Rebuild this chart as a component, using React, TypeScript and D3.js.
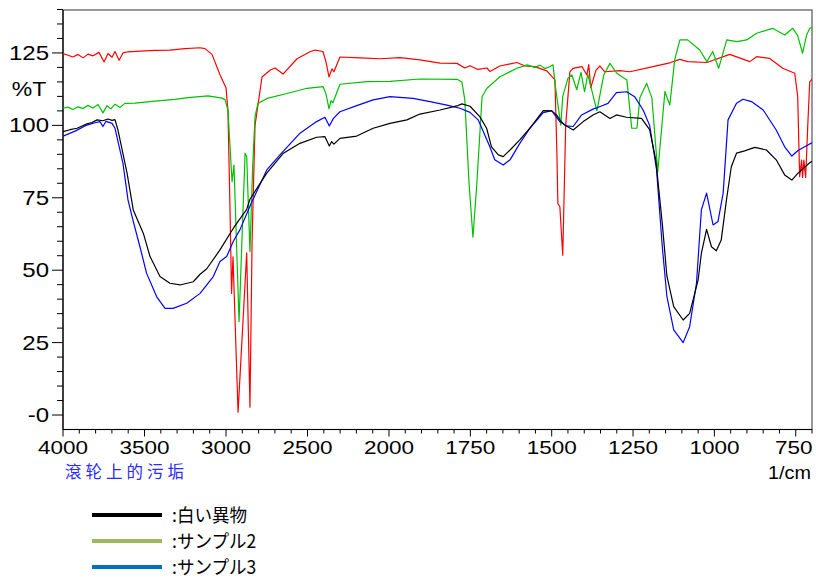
import React from "react";
import * as d3 from "d3";

// ---- Data (wavenumber 1/cm, %T) ----
const blackData: [number, number][] = [
  [4000, 97.8], [3957, 98.5], [3914, 99.0], [3883, 99.8], [3853, 100.5], [3822, 101.0],
  [3791, 101.9], [3755, 101.6], [3724, 102.2], [3699, 101.7], [3681, 102.0], [3663, 98.4],
  [3607, 83.5], [3569, 70.8], [3507, 62.7], [3466, 54.7], [3405, 47.8], [3344, 45.5],
  [3282, 44.9], [3201, 46.0], [3159, 48.6], [3118, 50.5], [3037, 57.0], [2955, 64.5],
  [2873, 71.0], [2853, 74.5], [2750, 83.5], [2648, 90.4], [2546, 93.8], [2444, 95.9],
  [2393, 96.1], [2366, 92.9], [2352, 94.4], [2338, 93.5], [2301, 95.5], [2198, 96.3],
  [2097, 99.0], [1997, 100.7], [1945, 101.9], [1905, 103.9], [1843, 105.3], [1791, 106.7],
  [1776, 107.4], [1751, 106.6], [1721, 103.0], [1700, 99.0], [1685, 92.6], [1664, 89.8],
  [1649, 89.2], [1628, 91.5], [1598, 95.0], [1567, 99.0], [1536, 103.6], [1526, 105.1],
  [1500, 105.0], [1485, 103.6], [1475, 101.9], [1460, 100.1], [1434, 98.4], [1403, 101.3],
  [1373, 103.6], [1352, 104.7], [1321, 102.4], [1301, 103.6], [1270, 102.8], [1224, 102.4],
  [1199, 98.5], [1180, 88.0], [1160, 66.0], [1146, 48.0], [1125, 37.4], [1096, 32.8],
  [1076, 35.1], [1050, 46.6], [1040, 55.8], [1024, 64.1], [1009, 58.1], [994, 56.7],
  [979, 60.4], [963, 74.2], [948, 85.7], [932, 90.4], [907, 91.2], [876, 92.4],
  [840, 91.5], [810, 88.1], [784, 82.9], [762, 81.1], [743, 83.5], [707, 87.1], [700, 87.6],
];

const greenData: [number, number][] = [
  [4000, 105.9], [3969, 106.3], [3939, 105.5], [3908, 106.4], [3877, 105.8], [3847, 106.9],
  [3816, 106.0], [3785, 107.2], [3755, 104.3], [3730, 106.8], [3706, 105.7], [3681, 107.3],
  [3650, 106.2], [3620, 107.6], [3558, 107.7], [3436, 108.4], [3313, 109.0], [3233, 109.6],
  [3110, 110.2], [3025, 109.4], [3006, 108.9], [2988, 105.3], [2963, 80.6], [2951, 86.3],
  [2920, 32.2], [2883, 90.4], [2873, 89.2], [2853, 56.4], [2837, 85.0], [2822, 103.0],
  [2804, 107.6], [2748, 109.3], [2626, 111.0], [2503, 112.8], [2405, 113.4], [2387, 111.0],
  [2368, 105.7], [2356, 108.5], [2344, 107.8], [2301, 114.2], [2135, 115.1], [1997, 115.2],
  [1905, 116.0], [1791, 115.9], [1776, 115.0], [1767, 108.8], [1754, 80.0], [1742, 61.4],
  [1730, 80.0], [1714, 109.9], [1699, 112.8], [1659, 116.8], [1607, 119.7], [1576, 120.9],
  [1552, 120.0], [1536, 120.8], [1521, 119.6], [1505, 120.3], [1496, 120.9], [1487, 112.0],
  [1472, 100.1], [1466, 110.0], [1450, 116.3], [1438, 117.4], [1423, 112.3], [1410, 118.3],
  [1399, 111.6], [1389, 117.6], [1361, 105.0], [1340, 117.4], [1321, 121.4], [1300, 118.0],
  [1269, 115.7], [1254, 99.0], [1238, 99.0], [1229, 109.5], [1208, 114.5], [1192, 109.4],
  [1174, 84.0], [1152, 111.7], [1137, 107.0], [1122, 122.6], [1106, 129.5], [1082, 129.5],
  [1045, 126.0], [1023, 122.0], [1005, 125.5], [987, 119.7], [962, 129.5], [931, 128.9],
  [901, 129.5], [870, 131.8], [821, 133.5], [784, 131.2], [759, 133.5], [744, 131.0],
  [729, 124.9], [717, 131.0], [707, 133.5], [700, 133.8],
];

const blueData: [number, number][] = [
  [4000, 96.3], [3926, 98.0], [3853, 100.1], [3804, 100.9], [3773, 101.3], [3755, 99.6],
  [3736, 101.4], [3699, 100.7], [3681, 99.0], [3632, 86.9], [3601, 74.2], [3571, 67.3],
  [3528, 58.1], [3487, 48.9], [3425, 40.8], [3374, 36.8], [3325, 36.8], [3241, 38.6],
  [3159, 42.0], [3078, 47.8], [3037, 53.0], [2996, 54.7], [2955, 60.0], [2914, 64.0],
  [2846, 73.0], [2750, 84.6], [2669, 89.8], [2546, 97.3], [2444, 101.3], [2393, 102.8],
  [2366, 99.8], [2341, 102.4], [2301, 104.7], [2198, 106.8], [2097, 108.8], [1997, 109.9],
  [1926, 109.3], [1874, 108.2], [1822, 107.0], [1782, 105.9], [1751, 104.5], [1726, 101.9],
  [1690, 92.6], [1675, 88.1], [1649, 86.3], [1628, 88.1], [1598, 93.8], [1567, 99.0],
  [1526, 104.4], [1500, 105.1], [1475, 101.3], [1454, 99.8], [1434, 99.6], [1408, 103.6],
  [1373, 105.6], [1347, 106.7], [1327, 107.6], [1301, 111.3], [1270, 111.6], [1245, 109.9],
  [1219, 105.3], [1199, 100.0], [1178, 85.0], [1160, 58.0], [1146, 41.0], [1125, 29.4],
  [1096, 25.0], [1076, 30.5], [1055, 45.5], [1040, 70.8], [1024, 76.6], [1004, 65.6],
  [989, 66.8], [973, 76.6], [958, 101.9], [932, 107.6], [912, 109.0], [886, 108.2],
  [850, 105.3], [810, 98.4], [784, 92.6], [762, 89.4], [743, 91.3], [707, 93.6], [700, 94.0],
];

const redData: [number, number][] = [
  [4000, 124.8], [3969, 124.2], [3939, 123.6], [3908, 124.5], [3877, 123.3], [3847, 124.6],
  [3816, 124.0], [3779, 125.2], [3748, 121.9], [3724, 124.8], [3699, 123.5], [3681, 125.5],
  [3656, 122.5], [3632, 125.0], [3601, 125.4], [3528, 125.6], [3436, 125.9], [3344, 126.0],
  [3252, 126.5], [3159, 126.8], [3129, 126.5], [3086, 124.5], [3037, 117.5], [3000, 113.0],
  [2988, 105.0], [2975, 70.0], [2966, 42.0], [2957, 54.6], [2926, 1.0], [2873, 56.0],
  [2853, 2.7], [2840, 60.0], [2822, 100.0], [2779, 116.7], [2730, 119.0], [2699, 119.8],
  [2650, 117.7], [2564, 123.0], [2485, 125.4], [2454, 126.0], [2405, 125.5], [2387, 122.0],
  [2368, 116.7], [2350, 119.5], [2338, 118.5], [2301, 123.6], [2178, 123.3], [2055, 123.0],
  [1966, 123.4], [1905, 122.6], [1843, 121.5], [1791, 121.4], [1767, 119.8], [1751, 120.6],
  [1727, 119.3], [1699, 119.8], [1690, 118.6], [1659, 120.5], [1628, 121.2], [1607, 121.7],
  [1582, 120.5], [1552, 120.3], [1515, 118.8], [1490, 115.7], [1484, 90.0], [1481, 73.0],
  [1475, 72.0], [1466, 55.2], [1457, 100.0], [1444, 118.5], [1435, 119.7], [1407, 120.3],
  [1392, 117.4], [1386, 121.0], [1380, 113.0], [1364, 119.0], [1352, 120.5], [1337, 118.5],
  [1291, 118.9], [1260, 118.5], [1199, 120.0], [1137, 121.6], [1106, 122.8], [1082, 122.0],
  [1023, 121.7], [953, 124.5], [891, 122.0], [870, 123.7], [830, 123.1], [790, 119.7],
  [753, 118.0], [744, 110.0], [738, 82.3], [732, 88.0], [729, 82.0], [725, 88.0],
  [719.5, 82.0], [713, 100.0], [707, 115.0], [700, 116.0],
];

const X_TICKS = [4000, 3500, 3000, 2500, 2000, 1750, 1500, 1250, 1000, 750];
const Y_TICKS = [0, 25, 50, 75, 100, 125];
const Y_TICK_LABELS = ["-0", "25", "50", "75", "100", "125"];
const LEGEND_LABELS = [":白い異物", ":サンプル2", ":サンプル3"];
const LEGEND_COLORS = ["#000000", "#9bbb59", "#0070c0"];

const W = 816;
const H = 581;
const L = 63, R = 812, T = 10, B = 429.5;

export default function App() {
  const x = d3.scaleLinear().domain([4000, 2000, 700]).range([L, 389, R]);
  const y = d3.scaleLinear().domain([-5, 140]).range([B, T - 0.5]);
  const line = d3.line<[number, number]>().x((d) => x(d[0])).y((d) => y(d[1]));

  const minorX: number[] = [];
  for (let v = 4000; v >= 2000; v -= 100) minorX.push(v);
  for (let v = 1950; v >= 700; v -= 50) minorX.push(v);
  const minorY: number[] = [];
  for (let v = 0; v <= 140; v += 5) minorY.push(v);

  const series = [
    { d: redData, c: "#ff0000" },
    { d: greenData, c: "#00c000" },
    { d: blueData, c: "#0000ff" },
    { d: blackData, c: "#000000" },
  ];

  const numFont = "'Liberation Sans', Arial, sans-serif";
  const cjk = "'Noto Sans CJK JP', 'Noto Sans CJK SC', sans-serif";

  return (
    <svg width={W} height={H} style={{ position: "absolute", left: 0, top: 0, background: "#fff" }}>
      <defs>
        <clipPath id="plot">
          <rect x={L} y={T} width={R - L} height={B - T} />
        </clipPath>
      </defs>
      <rect x={0} y={0} width={W} height={H} fill="#fff" />
      {/* frame */}
      <rect x={L} y={T} width={R - L} height={B - T} fill="none" stroke="#555" strokeWidth={1.2} />
      <line x1={L} x2={L} y1={T} y2={B} stroke="#000" strokeWidth={1.2} />
      <line x1={L} x2={R} y1={B} y2={B} stroke="#000" strokeWidth={1.2} />

      {/* y ticks */}
      {minorY.map((v) => (
        <line key={"my" + v} x1={L - (v % 25 === 0 ? 11 : 6)} x2={L} y1={y(v)} y2={y(v)} stroke="#000" strokeWidth={1} />
      ))}
      {Y_TICKS.map((v, i) => (
        <text key={"yl" + v} transform={`translate(49,${y(v) + 7}) scale(1.2,1)`} textAnchor="end"
          fontFamily={numFont} fontSize={20} fill="#000">{Y_TICK_LABELS[i]}</text>
      ))}
      <text transform={`translate(29,${y(112.5) + 7}) scale(1.15,1)`} textAnchor="middle"
        fontFamily={numFont} fontSize={20} fill="#000">%T</text>

      {/* x ticks */}
      {minorX.map((v) => (
        <line key={"mx" + v} x1={x(v)} x2={x(v)} y1={B} y2={B + (X_TICKS.includes(v) ? 7 : 4)} stroke="#000" strokeWidth={1} />
      ))}
      {X_TICKS.map((v) => (
        <text key={"xl" + v} transform={`translate(${v === 750 ? x(v) - 2 : x(v)},454) scale(1.25,1)`} textAnchor="middle"
          fontFamily={numFont} fontSize={18} fill="#000">{v}</text>
      ))}
      <text transform={`translate(811,479) scale(1.1,1)`} textAnchor="end" fontFamily={numFont} fontSize={18} fill="#000">1/cm</text>
      <text x={65} y={478} fontFamily="'Noto Sans CJK SC', sans-serif" fontSize={16.5} letterSpacing={4} fill="#2a2aff">滾轮上的污垢</text>

      {/* spectra */}
      <g clipPath="url(#plot)">
        {series.map((s, i) => (
          <path key={i} d={line(s.d) || ""} fill="none" stroke={s.c} strokeWidth={1.2} strokeLinejoin="round" />
        ))}
      </g>

      {/* legend */}
      {LEGEND_LABELS.map((lab, i) => (
        <g key={lab}>
          <line x1={92} x2={162} y1={515 + i * 26} y2={515 + i * 26} stroke={LEGEND_COLORS[i]} strokeWidth={4} />
          <text transform={`translate(172,${521.5 + i * 26}) scale(0.95,1)`} fontFamily={cjk} fontSize={18.5} fill="#000">{lab}</text>
        </g>
      ))}
    </svg>
  );
}
